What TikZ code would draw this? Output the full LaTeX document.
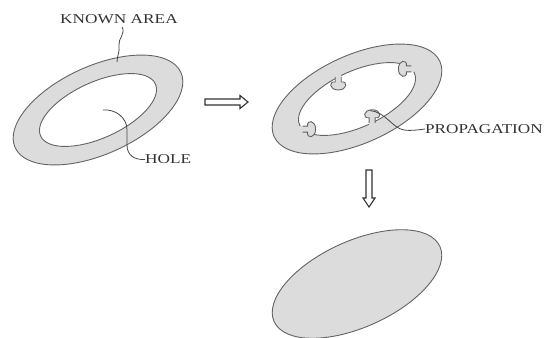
\documentclass[tikz,border=0pt]{standalone}
\usepackage{fontspec}
\usepackage{graphicx}
\setmainfont{Liberation Serif}
\definecolor{ringgray}{RGB}{220,220,220}
\definecolor{edgegray}{RGB}{100,100,100}
\definecolor{txtgray}{RGB}{50,50,50}
\tikzset{
  ringfill/.style={fill=ringgray},
  outline/.style={draw=edgegray, line width=0.9pt},
  leader/.style={draw=edgegray!70!black, line width=0.8pt},
  lbl/.style={font=\fontsize{13.5}{13.5}\selectfont, text=txtgray, inner sep=0pt},
  hollowarrow/.style={draw=edgegray!50!black, line width=1.1pt, fill=white, line join=miter},
  knob/.pic={
    \fill[ringgray] (-3,2.5) -- (-3,-5) .. controls (-10,-4) and (-9,-13) .. (0,-13)
      .. controls (9,-13) and (10,-4) .. (3,-5) -- (3,2.5) -- cycle;
    \draw[outline] (-3,0) -- (-3,-5) .. controls (-10,-4) and (-9,-13) .. (0,-13)
      .. controls (9,-13) and (10,-4) .. (3,-5) -- (3,0);
  }
}
\begin{document}
\begin{tikzpicture}[x=1pt,y=-1pt]
\useasboundingbox (0,0) rectangle (548,337);

% left ring
\begin{scope}[shift={(98,110)}, rotate=24.4]
  \path[ringfill, even odd rule] (0,0) ellipse [x radius=91, y radius=44]
                                 (0,0) ellipse [x radius=63, y radius=28];
  \draw[outline] (0,0) ellipse [x radius=91, y radius=44];
  \draw[outline] (0,0) ellipse [x radius=63, y radius=28];
\end{scope}
\coordinate (holesrc) at (103,110);
\coordinate (knownend) at (117,62);

% right ring with propagation knobs
\begin{scope}[shift={(357,99)}, rotate=24.4]
  \path[ringfill, even odd rule] (0,0) ellipse [x radius=91, y radius=44]
                                 (0,0) ellipse [x radius=63, y radius=28];
  \draw[outline] (0,0) ellipse [x radius=91, y radius=44];
  \draw[outline] (0,0) ellipse [x radius=63, y radius=28];
  \pic[rotate=180] at (-8,-27.8) {knob};
  \pic[rotate=90] at (62,-5) {knob};
  \pic[rotate=-90] at (-62,5) {knob};
  \pic at (4,27.9) {knob};
  \coordinate (propsrc) at (7,16);
\end{scope}

% bottom filled ellipse
\begin{scope}[shift={(357,284)}, rotate=24.4]
  \draw[outline, ringfill] (0,0) ellipse [x radius=91, y radius=43];
\end{scope}

% labels
\node[lbl] (known) at (119,19) {\scalebox{1.28}[1]{KNOWN AREA}};
\node[lbl, anchor=west] (hole) at (145,159.5) {\scalebox{1.28}[1]{HOLE}};
\node[lbl, anchor=west] (prop) at (425,129) {\scalebox{1.27}[1]{PROPAGATION}};

% leaders
\draw[leader] (122,27) .. controls (126,33) and (118,39) .. (119,45)
  .. controls (120,52) and (117,56) .. (knownend);
\draw[leader] (holesrc) .. controls (115,109) and (127,117) .. (127,130)
  -- (127,145) .. controls (127,155) and (134,160) .. (hole.west);
\draw[leader] (propsrc) .. controls (386,112) and (392,128) .. (404,130)
  .. controls (411,131) and (417,130) .. (prop.west);

% hollow arrows
\draw[hollowarrow] (205,99) -- (240,99) -- (240,95.5) -- (248,102) -- (240,108.5)
  -- (240,105) -- (205,105) -- cycle;
\draw[hollowarrow] (366,170) -- (366,198) -- (363,198) -- (369,207) -- (375,198)
  -- (372,198) -- (372,170) -- cycle;
\end{tikzpicture}
\end{document}
